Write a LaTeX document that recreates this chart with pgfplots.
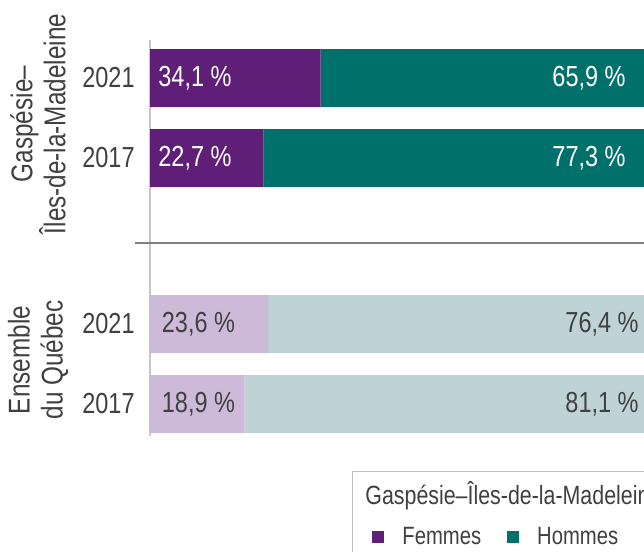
\documentclass[border=0pt]{standalone}
\usepackage{pgfplots}
\pgfplotsset{compat=1.18}
\usepackage{pgfplotstable}
\usepackage{fontspec}
\setmainfont{Liberation Sans}[FakeStretch=0.81]
\definecolor{gpurple}{HTML}{5F1E78}
\definecolor{gteal}{HTML}{00706B}
\definecolor{qlilac}{HTML}{CDBAD9}
\definecolor{qblue}{HTML}{BFD3D6}
\definecolor{txt}{HTML}{404040}
\definecolor{axgray}{HTML}{C8C8C8}
\definecolor{sepgray}{HTML}{808080}
\definecolor{leggray}{HTML}{BFBFBF}
\pgfplotstableread{
y gf gh qf qh
0 34.1 65.9 0 0
1 22.7 77.3 0 0
3.075 0 0 23.6 76.4
4.075 0 0 18.9 81.1
}\tabdata
\tikzset{blab/.style={font=\fontsize{14.5}{14.5}\selectfont, inner sep=0pt}}
\begin{document}
\begin{tikzpicture}
\path[use as bounding box] (0,0) rectangle (322pt,-276pt);
\clip (0,0) rectangle (322pt,-276pt);
\begin{axis}[
  at={(75pt,-20pt)}, anchor=north west,
  scale only axis, width=250pt, height=198pt,
  xbar stacked, bar width=29pt,
  xmin=0, xmax=100, ymin=-0.475, ymax=4.475,
  y dir=reverse,
  axis x line=none,
  axis y line*=left,
  y axis line style={-, draw=axgray, line width=1.25pt},
  ytick={0,1,3.075,4.075},
  yticklabels={2021,2017,2021,2017},
  ytick style={draw=none},
  yticklabel style={inner sep=0pt, xshift=-7.5pt, text=txt, font=\fontsize{14.5}{14.5}\selectfont},
  clip=false,
  legend columns=2,
  legend cell align=left,
  legend image code/.code={\fill[#1] (0pt,-3pt) rectangle (6pt,3pt);},
  legend style={draw=none, fill=none, inner sep=0pt,
    at={(0.444,-0.255)}, anchor=west,
    font=\fontsize{12.5}{12.5}\selectfont, text=txt,
    /tikz/every odd column/.append style={column sep=7pt},
    /tikz/every even column/.append style={column sep=11pt}},
]
\addplot[fill=gpurple, draw=none] table[x=gf, y=y]{\tabdata};
\addlegendentry{Femmes}
\addplot[fill=gteal, draw=none] table[x=gh, y=y]{\tabdata};
\addlegendentry{Hommes}
\addplot[fill=qlilac, draw=none, forget plot] table[x=qf, y=y]{\tabdata};
\addplot[fill=qblue, draw=none, forget plot] table[x=qh, y=y]{\tabdata};
\coordinate (f1) at (axis cs:1.6,0);
\coordinate (f2) at (axis cs:1.6,1);
\coordinate (h1) at (axis cs:95.2,0);
\coordinate (h2) at (axis cs:95.2,1);
\coordinate (f3) at (axis cs:2.3,3.075);
\coordinate (f4) at (axis cs:2.3,4.075);
\coordinate (h3) at (axis cs:97.8,3.075);
\coordinate (h4) at (axis cs:97.8,4.075);
\coordinate (sepL) at (axis cs:-3,2.0625);
\coordinate (sepR) at (axis cs:110,2.0625);
\coordinate (g1) at (axis cs:-22.4,0.575);
\coordinate (g2) at (axis cs:-22.4,3.525);
\coordinate (lb1) at (axis description cs:0.404,-0.0909);
\coordinate (lb2) at (axis description cs:1.3,-0.6);
\coordinate (lt) at (axis description cs:0.43,-0.1742);
\end{axis}
\draw[sepgray, line width=0.75pt] (sepL) -- (sepR);
\node[blab, anchor=west, text=white] at (f1) {34,1 \%};
\node[blab, anchor=west, text=white] at (f2) {22,7 \%};
\node[blab, anchor=east, text=white] at (h1) {65,9 \%};
\node[blab, anchor=east, text=white] at (h2) {77,3 \%};
\node[blab, anchor=west, text=txt] at (f3) {23,6 \%};
\node[blab, anchor=west, text=txt] at (f4) {18,9 \%};
\node[blab, anchor=east, text=txt] at (h3) {76,4 \%};
\node[blab, anchor=east, text=txt] at (h4) {81,1 \%};
\node[rotate=90, align=center, text=txt, font=\fontsize{15}{16.5}\selectfont] at (g1) {Gaspésie–\\Îles-de-la-Madeleine};
\node[rotate=90, align=center, text=txt, font=\fontsize{15}{16.5}\selectfont] at (g2) {Ensemble\\du Québec};
\draw[leggray, line width=0.5pt] (lb1) rectangle (lb2);
\node[anchor=base west, inner sep=0pt, text=txt, font=\fontsize{13.2}{13.2}\selectfont] at (lt) {Gaspésie–Îles-de-la-Madeleine};
\end{tikzpicture}
\end{document}
